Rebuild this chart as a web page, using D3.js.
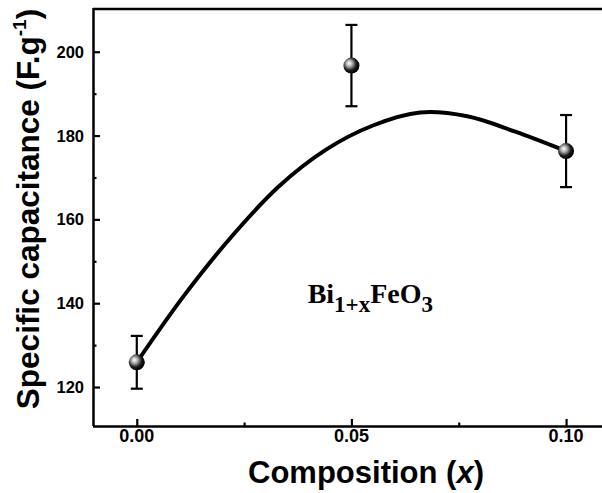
<!DOCTYPE html>
<html>
<head>
<meta charset="utf-8">
<script src="https://cdn.jsdelivr.net/npm/d3@7"></script>
<style>
  html, body { margin: 0; padding: 0; background: #fff; }
  svg { display: block; }
</style>
</head>
<body>
<script>
// measured points (x = composition, y = specific capacitance, err = error bar half-height)
const compX = [0, 0.05, 0.1];
const capY = [125.9, 196.7, 176.3];
const capErr = [6.3, 9.7, 8.6];

// smooth fit curve
const fitX = [0, 0.011, 0.022, 0.033, 0.044, 0.055, 0.066, 0.077, 0.088, 0.1];
const fitY = [125.9, 141.8, 155.8, 167.8, 176.6, 182.4, 185.5, 184.6, 181.0, 176.3];

const xTicks = [0, 0.05, 0.1];
const xMinor = [0.025, 0.075];
const yTicks = [120, 140, 160, 180, 200];
const yMinor = [130, 150, 170, 190];

const width = 602, height = 493;
const mLeft = 93, mRight = 609, mTop = 9, mBottom = 426;
const sans = "Liberation Sans, Arial, Helvetica, sans-serif";

const x = d3.scaleLinear().domain([-0.0102, 0.11]).range([mLeft, mRight]);
const y = d3.scaleLinear().domain([110.7, 210.2]).range([mBottom, mTop]);

const svg = d3.select("body").append("svg")
    .attr("width", width)
    .attr("height", height)
    .attr("viewBox", [0, 0, width, height]);

const defs = svg.append("defs");
const grad = defs.append("radialGradient")
    .attr("id", "ball")
    .attr("cx", "40%").attr("cy", "40%").attr("r", "60%")
    .attr("fx", "35%").attr("fy", "35%");
grad.append("stop").attr("offset", "0%").attr("stop-color", "#ffffff");
grad.append("stop").attr("offset", "30%").attr("stop-color", "#b5b5b5");
grad.append("stop").attr("offset", "70%").attr("stop-color", "#1a1a1a");
grad.append("stop").attr("offset", "100%").attr("stop-color", "#000");

// frame (top line; right side is beyond the picture)
svg.append("line")
    .attr("x1", mLeft).attr("x2", mRight + 20)
    .attr("y1", mTop).attr("y2", mTop)
    .attr("stroke", "#000").attr("stroke-width", 2.5);

// axes: ticks from d3, labels drawn separately
const xAxis = svg.append("g")
    .attr("transform", `translate(0,${mBottom})`)
    .call(d3.axisBottom(x).tickValues(xTicks).tickFormat("")
        .tickSizeInner(-7).tickSizeOuter(0));
svg.append("g")
    .attr("transform", `translate(0,${mBottom})`)
    .call(d3.axisBottom(x).tickValues(xMinor).tickFormat("")
        .tickSizeInner(-3.5).tickSizeOuter(0))
    .call(g => g.select(".domain").remove());

const yAxis = svg.append("g")
    .attr("transform", `translate(${mLeft},0)`)
    .call(d3.axisLeft(y).tickValues(yTicks).tickFormat("")
        .tickSizeInner(-7).tickSizeOuter(0));
svg.append("g")
    .attr("transform", `translate(${mLeft},0)`)
    .call(d3.axisLeft(y).tickValues(yMinor).tickFormat("")
        .tickSizeInner(-3.5).tickSizeOuter(0))
    .call(g => g.select(".domain").remove());

svg.selectAll("g.tick line").attr("stroke", "#000").attr("stroke-width", 2.2);
xAxis.select(".domain").attr("stroke", "#000").attr("stroke-width", 2.5)
    .attr("d", `M${mLeft},0.5H${mRight + 20}`);
yAxis.select(".domain").attr("stroke", "#000").attr("stroke-width", 2.5)
    .attr("d", `M0.5,${mBottom}V${mTop - 1}`);

const fmtX = d3.format(".2f");
svg.append("g")
    .attr("font-family", sans).attr("font-weight", "bold").attr("font-size", 18)
    .attr("text-anchor", "middle").attr("fill", "#000")
    .selectAll("text").data(xTicks).join("text")
    .attr("x", d => x(d)).attr("y", mBottom + 16)
    .text(d => fmtX(d));

svg.append("g")
    .attr("font-family", sans).attr("font-weight", "bold").attr("font-size", 16.5)
    .attr("text-anchor", "end").attr("fill", "#000")
    .selectAll("text").data(yTicks).join("text")
    .attr("x", mLeft - 9).attr("y", d => y(d)).attr("dy", "0.36em")
    .text(d => d);

// axis titles
svg.append("text")
    .attr("x", 366).attr("y", 483)
    .attr("text-anchor", "middle")
    .attr("font-family", sans)
    .attr("font-weight", "bold")
    .attr("font-size", 31)
    .call(t => {
        t.append("tspan").text("Composition (");
        t.append("tspan").attr("font-style", "italic").text("x");
        t.append("tspan").text(")");
    });

svg.append("text")
    .attr("transform", "translate(39,209) rotate(-90)")
    .attr("text-anchor", "middle")
    .attr("font-family", sans)
    .attr("font-weight", "bold")
    .attr("font-size", 31.5)
    .call(t => {
        t.append("tspan").text("Specific capacitance (F.g");
        t.append("tspan").attr("font-size", 19).attr("dy", -13).text("-1");
        t.append("tspan").attr("dy", 13).text(")");
    });

// fit curve
const line = d3.line()
    .x(d => x(d[0]))
    .y(d => y(d[1]))
    .curve(d3.curveCatmullRom.alpha(0.5));
svg.append("path")
    .datum(d3.zip(fitX, fitY))
    .attr("d", line)
    .attr("fill", "none")
    .attr("stroke", "#000")
    .attr("stroke-width", 4)
    .attr("stroke-linecap", "round");

// error bars
const pts = d3.zip(compX, capY, capErr);
const eb = svg.append("g").attr("stroke", "#000").attr("stroke-width", 2.2);
eb.selectAll("line.v").data(pts).join("line").attr("class", "v")
    .attr("x1", d => x(d[0])).attr("x2", d => x(d[0]))
    .attr("y1", d => y(d[1] - d[2])).attr("y2", d => y(d[1] + d[2]));
eb.selectAll("line.top").data(pts).join("line").attr("class", "top")
    .attr("x1", d => x(d[0]) - 6).attr("x2", d => x(d[0]) + 6)
    .attr("y1", d => y(d[1] + d[2])).attr("y2", d => y(d[1] + d[2]));
eb.selectAll("line.bot").data(pts).join("line").attr("class", "bot")
    .attr("x1", d => x(d[0]) - 6).attr("x2", d => x(d[0]) + 6)
    .attr("y1", d => y(d[1] - d[2])).attr("y2", d => y(d[1] - d[2]));

// markers
svg.append("g").selectAll("circle").data(pts).join("circle")
    .attr("cx", d => x(d[0]))
    .attr("cy", d => y(d[1]))
    .attr("r", 8)
    .attr("fill", "url(#ball)");

// annotation
svg.append("text")
    .attr("x", x(0.0398)).attr("y", y(140))
    .attr("font-family", "Liberation Serif, Times New Roman, serif")
    .attr("font-weight", "bold")
    .attr("font-size", 28)
    .call(t => {
        t.append("tspan").text("Bi");
        t.append("tspan").attr("font-size", 23).attr("dy", 9).text("1+x");
        t.append("tspan").attr("font-size", 28).attr("dy", -9).text("FeO");
        t.append("tspan").attr("font-size", 23).attr("dy", 9).text("3");
    });
</script>
</body>
</html>
